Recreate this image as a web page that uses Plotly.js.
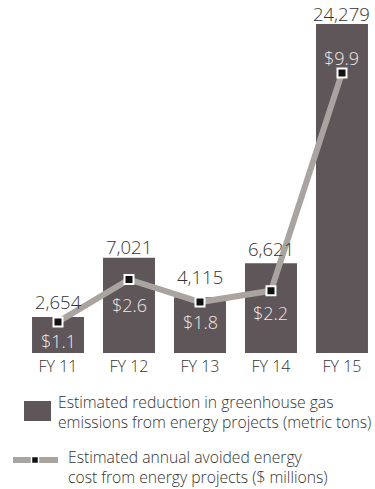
<!DOCTYPE html>
<html>
<head>
<meta charset="utf-8">
<script src="https://cdn.plot.ly/plotly-3.0.1.min.js"></script>
<style>html,body{margin:0;padding:0;background:#fff;}#chart{width:375px;height:489px;}</style>
</head>
<body>
<div id="chart"></div>
<script>
const categories = ["FY 11", "FY 12", "FY 13", "FY 14", "FY 15"];
const emissions = [2654, 7021, 4115, 6621, 24279];
const emissionLabels = ["2,654", "7,021", "4,115", "6,621", "24,279"];
const savings = [1.1, 2.6, 1.8, 2.2, 9.9];
const savingsLabels = ["$1.1", "$2.6", "$1.8", "$2.2", "$9.9"];
const legendLabels = [
  "Estimated reduction in greenhouse gas<br>emissions from energy projects (metric tons)",
  "Estimated annual avoided energy<br>cost from energy projects ($ millions)"
];

const barColor = "#5f565a";
const lineColor = "#a9a4a0";
const font = "Open Sans, Noto Sans, sans-serif";
const xs = categories.map((c, i) => i);

const bars = {
  type: "bar", x: xs, y: emissions, width: 0.732,
  marker: {color: barColor}, hoverinfo: "none", showlegend: false
};
const line = {
  type: "scatter", mode: "lines+markers", x: xs, y: savings, yaxis: "y2",
  line: {color: lineColor, width: 6},
  marker: {symbol: "square", size: 9, color: "#111", line: {color: "#fff", width: 2}},
  hoverinfo: "none", showlegend: false
};

// label offsets (px) — layout only
const valueShift = [16, 11, 21, 15, 11];
const moneyShift = [-19, -26, -20, -22, 15];
const annotations = [];
emissions.forEach((v, i) => {
  annotations.push({x: i, y: v, xref: "x", yref: "y", text: emissionLabels[i],
    showarrow: false, yanchor: "middle", yshift: valueShift[i],
    font: {family: font, size: 18.5, color: "#333", weight: 300}});
});
savings.forEach((v, i) => {
  annotations.push({x: i, y: v, xref: "x", yref: "y2", text: savingsLabels[i],
    showarrow: false, yanchor: "middle", yshift: moneyShift[i],
    font: {family: font, size: 18, color: "#ece9ea", weight: 300}});
});

// paper coords are relative to the plot area (top 24px, bottom 353px)
const py = p => (353 - p) / 329;
const px = p => p / 375;
annotations.push({x: px(56), y: py(412), xref: "paper", yref: "paper",
  text: legendLabels[0], showarrow: false, xanchor: "left", yanchor: "middle", align: "left",
  font: {family: font, size: 15.7, color: "#333", weight: 300}});
annotations.push({x: px(66), y: py(467), xref: "paper", yref: "paper",
  text: legendLabels[1], showarrow: false, xanchor: "left", yanchor: "middle", align: "left",
  font: {family: font, size: 15.7, color: "#333", weight: 300}});

const shapes = [
  {type: "rect", xref: "paper", yref: "paper", x0: px(24), x1: px(51), y0: py(421), y1: py(401),
   fillcolor: barColor, line: {width: 0}},
  {type: "line", xref: "paper", yref: "paper", x0: px(13), x1: px(58), y0: py(460), y1: py(460),
   line: {color: lineColor, width: 6}},
  {type: "rect", xref: "paper", yref: "paper", x0: px(31.5), x1: px(38.5), y0: py(463.5), y1: py(456.5),
   fillcolor: "#111", line: {color: "#fff", width: 1.5}}
];

const layout = {
  width: 375, height: 489,
  margin: {l: 0, r: 0, t: 24, b: 136},
  paper_bgcolor: "#fff", plot_bgcolor: "#fff",
  xaxis: {range: [-0.817, 4.465], tickvals: xs, ticktext: categories, showgrid: false,
    zeroline: false, showline: false, ticks: "", fixedrange: true, ticklabelstandoff: 2,
    tickfont: {family: font, size: 16, color: "#333", weight: 300}},
  yaxis: {range: [0, 24279], visible: false, showgrid: false, zeroline: false},
  yaxis2: {range: [0, 11.63], overlaying: "y", visible: false, showgrid: false, zeroline: false},
  annotations: annotations,
  shapes: shapes,
  showlegend: false
};

Plotly.newPlot("chart", [bars, line], layout, {displayModeBar: false, staticPlot: true});
</script>
</body>
</html>
